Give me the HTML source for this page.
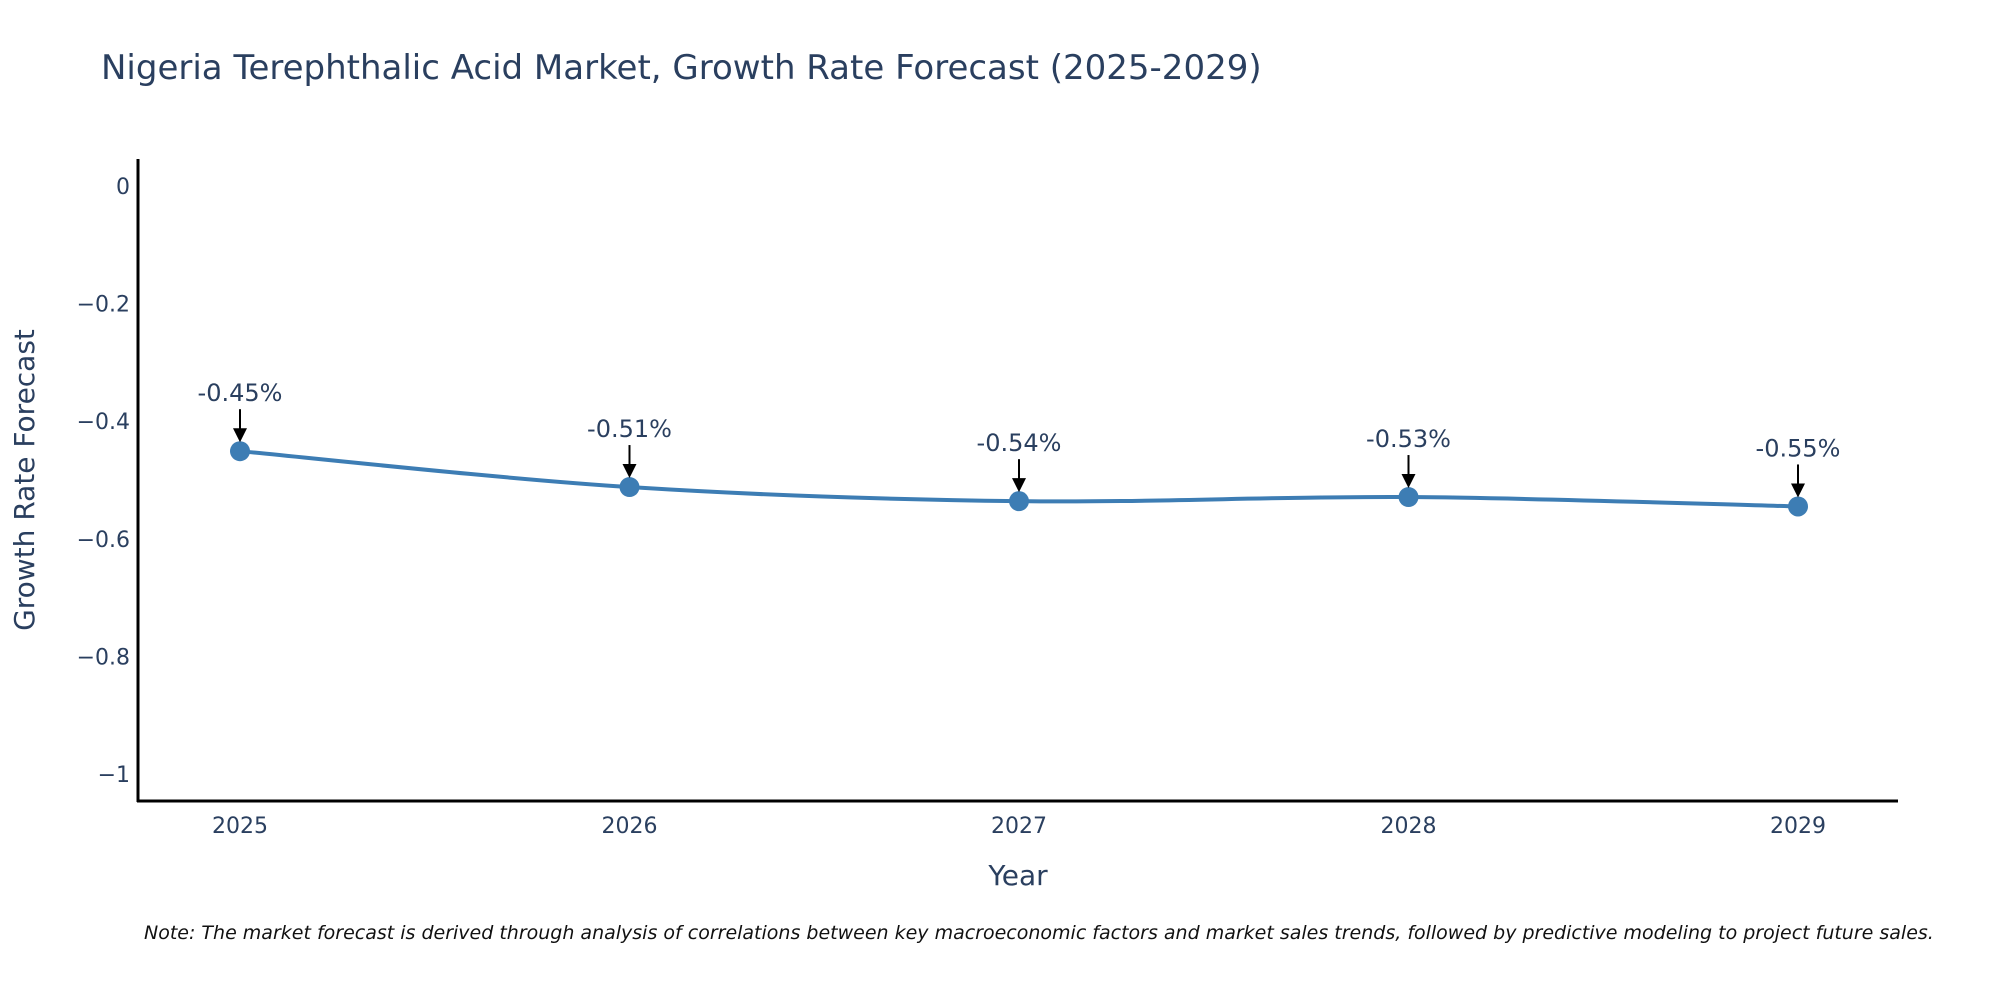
<!DOCTYPE html>
<html><head><meta charset="utf-8"><style>
body{margin:0;background:#fff;}
svg text{font-family:"DejaVu Sans","Liberation Sans",sans-serif;}
</style></head><body>
<svg id="chart" width="2000" height="1000" viewBox="0 0 2000 1000">
<text x="101" y="79" font-size="34" fill="#2a3f5f">Nigeria Terephthalic Acid Market, Growth Rate Forecast (2025-2029)</text>
<g id="yticks"></g><g id="xticks"></g>
<line x1="138" y1="159" x2="138" y2="802" stroke="#000" stroke-width="3"/>
<line x1="137" y1="801" x2="1898" y2="801" stroke="#000" stroke-width="3"/>
<text transform="translate(34,480) rotate(-90)" text-anchor="middle" font-size="28" fill="#2a3f5f">Growth Rate Forecast</text>
<text x="1018" y="885" text-anchor="middle" font-size="28" fill="#2a3f5f">Year</text>
<g id="series"></g>
<text x="144" y="939" font-size="19" font-style="italic" fill="#111">Note: The market forecast is derived through analysis of correlations between key macroeconomic factors and market sales trends, followed by predictive modeling to project future sales.</text>
</svg>
<script>
const years=[2025,2026,2027,2028,2029];
const values=[-0.451,-0.512,-0.536,-0.529,-0.545];
const labels=["-0.45%","-0.51%","-0.54%","-0.53%","-0.55%"];
const yTickVals=[0,-0.2,-0.4,-0.6,-0.8,-1];
const yTickLabels=["0","\u22120.2","\u22120.4","\u22120.6","\u22120.8","\u22121"];
const NS="http://www.w3.org/2000/svg";
function X(yr){return 240+(yr-2025)*389.5;}
function Y(v){return 186+(-v)*588;}
function mk(tag,attrs,parent){const e=document.createElementNS(NS,tag);for(const k in attrs)e.setAttribute(k,attrs[k]);parent.appendChild(e);return e;}
const yt=document.getElementById('yticks');
yTickVals.forEach((v,i)=>{const t=mk('text',{x:130,y:Y(v)+8,'text-anchor':'end','font-size':22,fill:'#2a3f5f'},yt);


t.textContent=yTickLabels[i];});
const xt=document.getElementById('xticks');
years.forEach(yr=>{const t=mk('text',{x:X(yr),y:833,'text-anchor':'middle','font-size':22,fill:'#2a3f5f'},xt);


t.textContent=String(yr);});
const s=document.getElementById('series');
const pts=years.map((yr,i)=>[X(yr),Y(values[i])]);
let d='M'+pts[0][0]+','+pts[0][1];
for(let i=0;i<pts.length-1;i++){const p0=pts[Math.max(0,i-1)],p1=pts[i],p2=pts[i+1],p3=pts[Math.min(pts.length-1,i+2)];
const c1=[p1[0]+(p2[0]-p0[0])/6,p1[1]+(p2[1]-p0[1])/6],c2=[p2[0]-(p3[0]-p1[0])/6,p2[1]-(p3[1]-p1[1])/6];
d+=' C'+c1+' '+c2+' '+p2;}
const line=mk('path',{d:d,fill:'none',stroke:'#3d7db4','stroke-width':4},s);


pts.forEach((p,i)=>{
const c=mk('circle',{cx:p[0],cy:p[1],r:10,fill:'#3d7db4'},s);


const a=mk('line',{x1:p[0],y1:p[1]-42,x2:p[0],y2:p[1]-22,stroke:'#000','stroke-width':2},s);


const h=mk('polygon',{points:(p[0]-7)+','+(p[1]-23)+' '+(p[0]+7)+','+(p[1]-23)+' '+p[0]+','+(p[1]-9),fill:'#000'},s);


const t=mk('text',{x:p[0],y:p[1]-50,'text-anchor':'middle','font-size':24,fill:'#2a3f5f'},s);


t.textContent=labels[i];});
</script>
</body></html>
